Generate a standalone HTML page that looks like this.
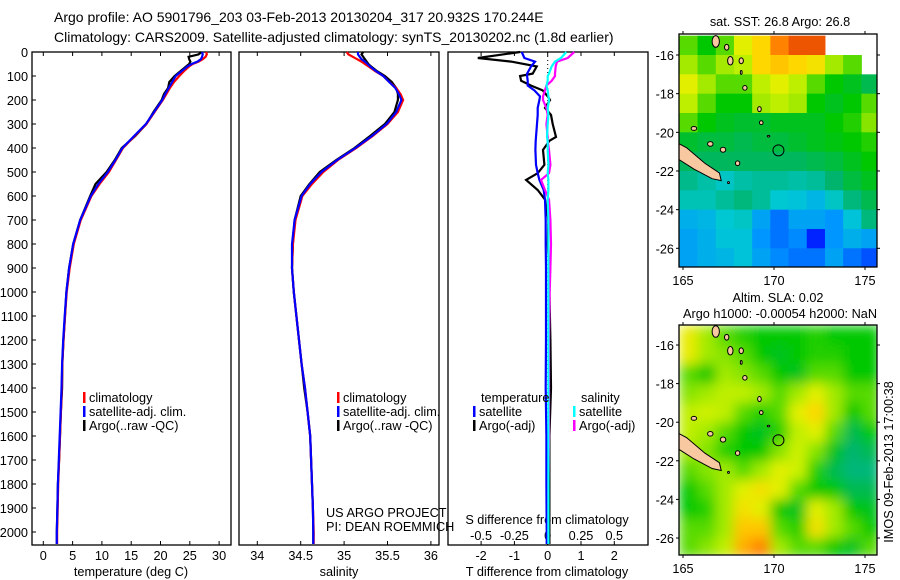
<!DOCTYPE html>
<html><head><meta charset="utf-8"><style>
html,body{margin:0;padding:0;background:#fff;}
svg{display:block;font-family:"Liberation Sans",sans-serif;}
text{font-size:12.7px;fill:#000;}
</style></head><body>
<svg id="fig" width="900" height="580" viewBox="0 0 900 580" xmlns="http://www.w3.org/2000/svg">
<text x="54" y="22" style="font-size:14px">Argo profile: AO 5901796_203 03-Feb-2013 20130204_317 20.932S 170.244E</text>
<text x="54" y="42" style="font-size:14px">Climatology: CARS2009. Satellite-adjusted climatology: synTS_20130202.nc (1.8d earlier)</text>
</svg>
<script>
// ---------- data ----------
const depths = [0,10,20,30,40,50,60,80,100,125,150,175,200,250,300,350,400,450,500,550,600,700,800,900,1000,1100,1200,1300,1400,1500,1600,1700,1800,1900,2000,2050];
const tempClim = [27.8,27.9,27.7,27.2,26.5,25.5,24.9,24,23.2,22.3,21.6,21,20.4,19,17.6,15.6,13.6,12.4,11.2,9.6,8.2,6.4,5.2,4.5,4.0,3.7,3.45,3.25,3.15,3.0,2.85,2.7,2.55,2.45,2.35,2.35];
const tempSat = [27.1,27.2,27.1,26.9,26.3,25.3,24.6,23.6,22.6,22.0,21.4,20.8,20.3,18.9,17.5,15.5,13.5,12.3,11.0,9.4,8.1,6.3,5.1,4.4,3.95,3.65,3.4,3.2,3.1,2.95,2.8,2.65,2.5,2.4,2.3,2.3];
const tempArgo = [27.0,26.5,24.8,24.9,25.1,24.9,24.4,23.4,22.4,21.5,21.3,20.6,20.2,18.8,17.6,15.7,13.4,12.2,10.8,8.9,8.0,6.3,5.1,4.4,3.95,3.7,3.45,3.25,3.2,3.0,2.85,2.7,2.5,2.4,2.3,2.3];
const salClim = [35.03,35.05,35.1,35.15,35.2,35.24,35.28,35.36,35.45,35.52,35.6,35.65,35.68,35.62,35.5,35.33,35.14,34.93,34.76,34.63,34.52,34.44,34.41,34.40,34.42,34.45,34.48,34.51,34.55,34.58,34.61,34.62,34.63,34.64,34.65,34.65];
const salSat = [35.16,35.16,35.18,35.2,35.24,35.27,35.3,35.37,35.45,35.52,35.59,35.63,35.66,35.6,35.49,35.32,35.13,34.92,34.74,34.61,34.51,34.43,34.40,34.40,34.42,34.45,34.48,34.51,34.55,34.58,34.61,34.62,34.63,34.64,34.645,34.645];
const salArgo = [35.22,35.2,35.22,35.24,35.26,35.28,35.31,35.38,35.47,35.55,35.6,35.62,35.62,35.58,35.47,35.3,35.12,34.91,34.72,34.6,34.5,34.43,34.41,34.40,34.42,34.45,34.48,34.51,34.54,34.58,34.61,34.62,34.63,34.64,34.645,34.645];
const diffDepths = [0,25,40,60,90,100,120,140,160,185,200,233,262,300,354,370,408,470,505,533,575,615,700,800,900,1000,1200,1400,1600,1800,2000,2050];
const tDiffSat = [-0.78,-0.7,-0.38,-0.5,-0.62,-0.62,-0.6,-0.6,-0.4,-0.23,-0.25,-0.3,-0.3,-0.32,-0.35,-0.36,-0.37,-0.35,-0.3,-0.25,-0.12,-0.08,-0.06,-0.06,-0.05,-0.05,-0.05,-0.06,-0.04,-0.04,-0.03,-0.03];
const tDiffArgo = [-0.83,-2.1,-1.1,-0.33,-0.45,-0.83,-0.8,-0.5,-0.15,0.0,0.07,-0.08,0.1,0.15,0.25,0.05,-0.14,-0.1,-0.3,-0.65,-0.3,-0.08,0.02,0.0,0.05,0.05,0.08,0.1,0.05,0.05,0.05,0.05];
const sDiffSat = [0.14,0.1,0.055,0.03,0.01,0.0,0.0,-0.01,0.0,0.005,0.01,0.0,0.005,0.0,-0.005,0.0,0.0,0.005,0.0,0.005,0.005,0.0,0.005,0.005,0.005,0.005,0.005,0.005,0.005,0.005,0.005,0.005];
const sDiffArgo = [0.2,0.15,0.07,0.06,0.055,0.055,0.03,-0.01,-0.02,-0.035,-0.035,-0.01,0.0,-0.01,0.0,0.0,0.01,0.02,0.01,-0.05,-0.02,0.01,0.02,0.025,0.02,0.015,0.01,0.01,0.01,0.005,0.005,0.005];
const depthTicks = [0,100,200,300,400,500,600,700,800,900,1000,1100,1200,1300,1400,1500,1600,1700,1800,1900,2000];
const tempTicks = [0,5,10,15,20,25,30];
const salTicks = [34,34.5,35,35.5,36];
const salTickLabels = ["34","34.5","35","35.5","36"];
const tDiffTicks = [-2,-1,0,1,2];
const sDiffTicks = [-0.5,-0.25,0,0.25,0.5];
const sDiffTickLabels = ["-0.5","-0.25","0","0.25","0.5"];
const lonTicks = [165,170,175];
const latTicks = [-16,-18,-20,-22,-24,-26];
const sstGrid = [
[0.55,0.5,0.55,0.65,0.7,0.8,0.85,0.85,null,null,null],
[0.6,0.55,0.6,0.62,0.7,0.72,0.7,0.68,0.6,0.55,null],
[0.65,0.6,0.55,0.55,0.62,0.65,0.62,0.55,0.5,0.48,0.45],
[0.62,0.55,0.5,0.5,0.6,0.62,0.6,0.5,0.48,0.5,0.55],
[0.55,0.5,0.48,0.47,0.47,0.48,0.48,0.48,0.5,0.52,0.58],
[0.47,0.46,0.46,0.45,0.46,0.46,0.47,0.48,0.49,0.5,0.52],
[0.44,0.44,0.44,0.44,0.44,0.44,0.44,0.45,0.46,0.48,0.5],
[0.41,0.39,0.37,0.39,0.4,0.4,0.39,0.4,0.43,0.46,0.48],
[0.38,0.38,0.4,0.42,0.4,0.36,0.35,0.33,0.37,0.42,0.45],
[0.32,0.33,0.36,0.37,0.3,0.25,0.3,0.3,0.28,0.35,0.42],
[0.3,0.32,0.35,0.35,0.28,0.25,0.27,0.18,0.28,0.32,0.3],
[0.3,0.32,0.33,0.35,0.3,0.27,0.25,0.25,0.3,0.25,0.22]];
const slaGrid = [
[0.66,0.6,0.55,0.52,0.5,0.5,0.5,0.52,0.5,0.5,0.5],
[0.66,0.6,0.58,0.55,0.5,0.48,0.5,0.52,0.52,0.5,0.5],
[0.55,0.5,0.6,0.58,0.55,0.5,0.48,0.55,0.55,0.5,0.5],
[0.58,0.6,0.62,0.62,0.6,0.55,0.6,0.65,0.6,0.55,0.55],
[0.62,0.63,0.62,0.55,0.52,0.55,0.65,0.7,0.6,0.5,0.55],
[0.62,0.6,0.55,0.5,0.48,0.52,0.62,0.65,0.55,0.45,0.5],
[0.6,0.58,0.52,0.5,0.5,0.58,0.63,0.58,0.48,0.43,0.45],
[0.55,0.58,0.6,0.55,0.6,0.65,0.63,0.52,0.45,0.42,0.42],
[0.5,0.55,0.6,0.65,0.68,0.65,0.55,0.5,0.5,0.45,0.45],
[0.5,0.52,0.6,0.68,0.65,0.5,0.48,0.65,0.6,0.5,0.48],
[0.55,0.55,0.6,0.72,0.72,0.55,0.52,0.68,0.6,0.55,0.5],
[0.55,0.58,0.62,0.75,0.8,0.6,0.55,0.55,0.5,0.48,0.55]];
const gridLon0 = 164.8, gridLat0 = -15;
const islands = [[166.8,-15.3,0.2,0.3],[167.4,-15.6,0.12,0.15],[167.6,-16.3,0.15,0.22],[168.2,-16.3,0.12,0.15],[168.4,-17.7,0.12,0.12],[168.2,-16.9,0.05,0.1],[169.2,-18.8,0.1,0.13],[169.3,-19.5,0.1,0.1],[165.6,-19.8,0.15,0.1],[166.5,-20.6,0.15,0.12],[167.2,-20.9,0.15,0.13],[168.0,-21.6,0.12,0.12],[169.7,-20.2,0.07,0.04],[167.5,-22.6,0.05,0.05]];
const profileLon = 170.244, profileLat = -20.932;

const svg = document.getElementById('fig');
const NS = 'http://www.w3.org/2000/svg';
function mk(tag, parent){ const e = document.createElementNS(NS, tag); (parent||svg).appendChild(e); return e; }

const yTop = 52, yBot = 545;
function yDepth(d){ return 52 + d*0.24; }
function xTemp(t){ return 43.3 + t*5.86; }
function xSal(s){ return 257.3 + (s-34)*86.8; }
function xTd(t){ return 547.7 + t*33.3; }
function xSd(s){ return 547.7 + s*133.2; }

function frame(x0,x1,name){
  const r = mk('rect'); r.setAttribute('x',x0); r.setAttribute('y',yTop); r.setAttribute('width',x1-x0); r.setAttribute('height',yBot-yTop);
  r.setAttribute('fill','none'); r.setAttribute('stroke','#000'); r.setAttribute('stroke-width','1.3');
  
  
}
frame(32,231,'temperature-panel');
frame(239,439,'salinity-panel');
frame(448,648,'difference-panel');

function line(x1,y1,x2,y2,w,c){ const l = mk('line'); l.setAttribute('x1',x1);l.setAttribute('y1',y1);l.setAttribute('x2',x2);l.setAttribute('y2',y2);l.setAttribute('stroke',c||'#000');l.setAttribute('stroke-width',w||1); return l; }
function txt(x,y,s,anchor,size){ const t = mk('text'); t.setAttribute('x',x); t.setAttribute('y',y); if(anchor) t.setAttribute('text-anchor',anchor); if(size) t.style.fontSize=size+'px'; t.textContent=s; return t; }

depthTicks.forEach(d=>{
  const y = yDepth(d);
  const tk = line(32,y,36,y);
  
  
  const t = txt(28,y+5,String(d),'end');
  
  
});
tempTicks.forEach(v=>{
  const x = xTemp(v);
  line(x,yTop,x,yTop+4); line(x,yBot,x,yBot-4);
  const t = txt(x,560,String(v),'middle');
  
  
});
salTicks.forEach((v,i)=>{
  const x = xSal(v);
  line(x,yTop,x,yTop+4); line(x,yBot,x,yBot-4);
  const t = txt(x,560,salTickLabels[i],'middle');
  
  
});
tDiffTicks.forEach(v=>{
  const x = xTd(v);
  line(x,yTop,x,yTop+4); line(x,yBot,x,yBot-4);
  const t = txt(x,560,String(v),'middle');
  
  
});
sDiffTicks.forEach((v,i)=>{
  const t = txt(xSd(v),540,sDiffTickLabels[i],'middle');
  
  
});
let t1 = txt(131,576,'temperature (deg C)','middle');


let t2 = txt(339,576,'salinity','middle');


let t3 = txt(547,576,'T difference from climatology','middle');


let t4 = txt(547,524,'S difference from climatology','middle');


let t5 = txt(326,517,'US ARGO PROJECT');


let t6 = txt(326,531,'PI: DEAN ROEMMICH');



const zl = line(547.7,yTop,547.7,yBot,1,'#000'); zl.setAttribute('stroke-dasharray','1,3');



function series(dArr, vArr, xf, color, name){
  const p = mk('polyline');
  p.setAttribute('points', dArr.map((d,i)=>xf(vArr[i]).toFixed(1)+','+yDepth(d).toFixed(1)).join(' '));
  p.setAttribute('fill','none'); p.setAttribute('stroke',color); p.setAttribute('stroke-width','2.2');
  
  
}
series(depths,tempArgo,xTemp,'#000','temperature-argo-line');
series(depths,tempClim,xTemp,'#ff0000','temperature-climatology-line');
series(depths,tempSat,xTemp,'#0000ff','temperature-satellite-line');
series(depths,salArgo,xSal,'#000','salinity-argo-line');
series(depths,salClim,xSal,'#ff0000','salinity-climatology-line');
series(depths,salSat,xSal,'#0000ff','salinity-satellite-line');
series(diffDepths,tDiffArgo,xTd,'#000','t-diff-argo-line');
series(diffDepths,tDiffSat,xTd,'#0000ff','t-diff-satellite-line');
series(diffDepths,sDiffArgo,xSd,'#ff00ff','s-diff-argo-line');
series(diffDepths,sDiffSat,xSd,'#00ffff','s-diff-satellite-line');

function legendEntry(x,y,color,label){
  const r = mk('rect'); r.setAttribute('x',x); r.setAttribute('y',y-10); r.setAttribute('width',2.5); r.setAttribute('height',11); r.setAttribute('fill',color);
  
  
  const t = txt(x+6,y,label);
  
  
}
legendEntry(83,402,'#ff0000','climatology');
legendEntry(83,416,'#0000ff','satellite-adj. clim.');
legendEntry(83,430,'#000','Argo(..raw -QC)');
legendEntry(337,402,'#ff0000','climatology');
legendEntry(337,416,'#0000ff','satellite-adj. clim.');
legendEntry(337,430,'#000','Argo(..raw -QC)');
let lt = txt(481,402,'temperature');  
let ls = txt(581,402,'salinity');  
legendEntry(473,416,'#0000ff','satellite');
legendEntry(473,430,'#000','Argo(-adj)');
legendEntry(573,416,'#00ffff','satellite');
legendEntry(573,430,'#ff00ff','Argo(-adj)');

// ---------- maps ----------
const cmapStops = [[0,[0,0,128]],[0.15,[0,0,255]],[0.28,[0,150,255]],[0.36,[0,200,210]],[0.43,[0,180,110]],[0.5,[0,200,0]],[0.57,[120,225,0]],[0.64,[220,245,0]],[0.7,[255,215,0]],[0.8,[255,130,0]],[0.9,[220,40,0]],[1,[140,0,0]]];
function cmap(v){
  for(let i=1;i<cmapStops.length;i++){ if(v<=cmapStops[i][0]){ const a=cmapStops[i-1],b=cmapStops[i]; const f=(v-a[0])/(b[0]-a[0]); return 'rgb('+a[1].map((c,k)=>Math.round(c+(b[1][k]-c)*f)).join(',')+')'; } }
  return 'rgb(140,0,0)';
}
function drawMap(y0,y1,latTop,latScale,grid,name,blur){
  const x0=679,x1=877;
  const xLon = lon => 683 + (lon-165)*18.2;
  const yLat = lat => latTop + (-16-lat)*latScale;
  const g = mk('g');  
  const cp = mk('clipPath'); cp.setAttribute('id','clip'+name); const cr = mk('rect',cp); cr.setAttribute('x',x0); cr.setAttribute('y',y0); cr.setAttribute('width',x1-x0); cr.setAttribute('height',y1-y0);
  const cells = mk('g',g); cells.setAttribute('clip-path','url(#clip'+name+')');
  const inner = mk('g',cells); if(blur) inner.setAttribute('filter','url(#blur)');
  grid.forEach((row,r)=>row.forEach((v,c)=>{
    if(v===null) return;
    const rc = mk('rect',inner);
    const xa = xLon(gridLon0+c), xb = xLon(gridLon0+c+1), ya = yLat(gridLat0-r), yb = yLat(gridLat0-r-1);
    rc.setAttribute('x',xa); rc.setAttribute('y',ya); rc.setAttribute('width',xb-xa+0.5); rc.setAttribute('height',yb-ya+0.5); rc.setAttribute('fill',cmap(v));
    
    
  }));
  const nc = mk('polygon',cells);
  nc.setAttribute('points',[[164.6,-20.5],[165.2,-20.8],[166.2,-21.6],[167.0,-22.1],[167.1,-22.5],[166.6,-22.4],[165.6,-21.9],[164.6,-21.3]].map(p=>xLon(p[0])+','+yLat(p[1])).join(' '));
  nc.setAttribute('fill','#f8c8a0'); nc.setAttribute('stroke','#000'); nc.setAttribute('stroke-width','1');
  
  
  islands.forEach(is=>{
    const e = mk('ellipse',cells); e.setAttribute('cx',xLon(is[0])); e.setAttribute('cy',yLat(is[1])); e.setAttribute('rx',is[2]*18.2); e.setAttribute('ry',is[3]*latScale);
    e.setAttribute('fill','#f8c8a0'); e.setAttribute('stroke','#000'); e.setAttribute('stroke-width','1');
    
    
  });
  const c = mk('circle',g); c.setAttribute('cx',xLon(profileLon)); c.setAttribute('cy',yLat(profileLat)); c.setAttribute('r',5.5); c.setAttribute('fill','none'); c.setAttribute('stroke','#000'); c.setAttribute('stroke-width','1');
  
  
  const fr = mk('rect',g); fr.setAttribute('x',x0); fr.setAttribute('y',y0); fr.setAttribute('width',x1-x0); fr.setAttribute('height',y1-y0); fr.setAttribute('fill','none'); fr.setAttribute('stroke','#000'); fr.setAttribute('stroke-width','1.3');
  lonTicks.forEach(l=>{ const x=xLon(l); line(x,y0,x,y0-3); line(x,y1,x,y1+3);
    const t = txt(x,y1+18,String(l),'middle');
    
     });
  latTicks.forEach(l=>{ const y=yLat(l); line(x0,y,x0-3,y); line(x1,y,x1+3,y);
    const t = txt(x0-5,y+5,String(l),'end');
    
     });
}
const defs = mk('defs'); const flt = mk('filter',defs); flt.setAttribute('id','blur'); const gb = mk('feGaussianBlur',flt); gb.setAttribute('stdDeviation','6');
drawMap(34,267,55,19.33,sstGrid,'sst-map',false);
drawMap(325,555,345,19.3,slaGrid,'sla-map',true);
let m1 = txt(780,26,'sat. SST: 26.8 Argo: 26.8','middle');  
let m2 = txt(778,302,'Altim. SLA: 0.02','middle');  
let m3 = txt(780,318,'Argo h1000: -0.00054 h2000: NaN','middle');  
let m4 = txt(0,0,'IMOS 09-Feb-2013 17:00:38','middle'); m4.setAttribute('transform','translate(893,462) rotate(-90)');


</script>
</body></html>
